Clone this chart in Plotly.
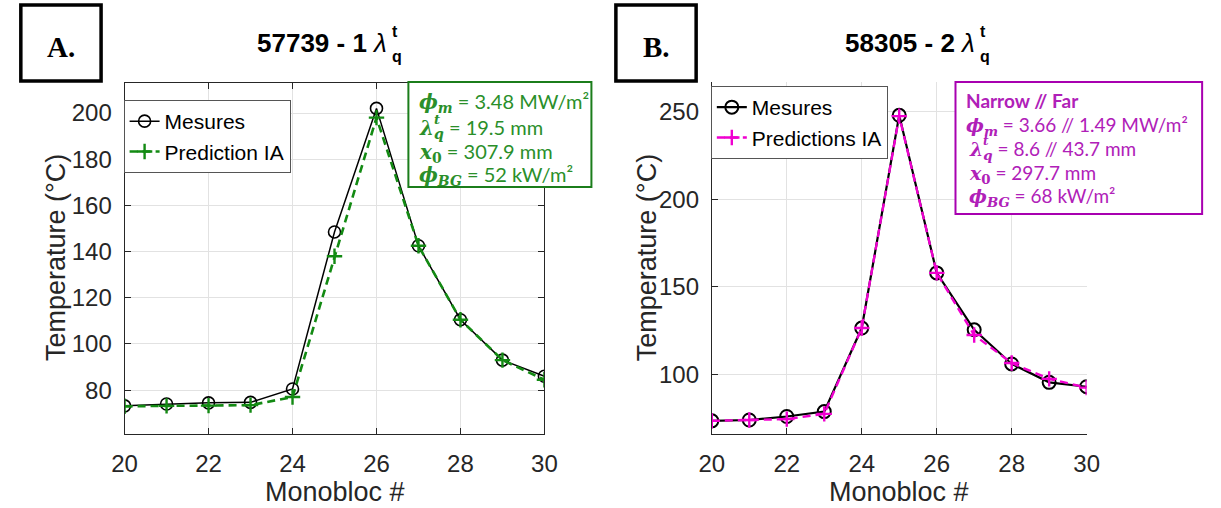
import plotly.graph_objects as go

W, H = 1221, 508


def px(x):
    return x / W


def py(y):
    return 1 - y / H


# ---------------- data ----------------
monobloc = [20, 21, 22, 23, 24, 25, 26, 27, 28, 29, 30]
mesures_A = [73.2, 74.0, 74.5, 74.7, 80.5, 148.5, 202.0, 142.5, 110.5, 93.0, 86.0]
prediction_A = [73.0, 73.2, 73.3, 73.5, 77.0, 138.0, 198.0, 142.5, 110.5, 93.0, 84.5]
mesures_B = [73.5, 74.0, 76.0, 78.8, 126.5, 248.0, 158.0, 125.5, 106.0, 95.5, 93.0]
prediction_B = [73.5, 74.0, 74.5, 77.5, 126.5, 247.5, 158.0, 122.5, 106.5, 97.5, 92.5]
x_ticks = [20, 22, 24, 26, 28, 30]
y_ticks_A = [80, 100, 120, 140, 160, 180, 200]
y_ticks_B = [100, 150, 200, 250]

SANS = "Liberation Sans, Arial, sans-serif"
GREEN = "#138a13"
GREEN_TXT = "#2a8f2a"
MAG = "#f000d0"
MAG_TXT = "#b020b8"
MAG_BOX = "#a800b0"
AX = "#262626"

fig = go.Figure()

# Panel A traces
fig.add_trace(go.Scatter(
    x=monobloc, y=mesures_A, mode="lines+markers", name="Mesures",
    line=dict(color="black", width=1.5),
    marker=dict(symbol="circle-open", size=12, color="black", line=dict(width=1.6)),
    xaxis="x", yaxis="y", legend="legend"))
fig.add_trace(go.Scatter(
    x=monobloc, y=prediction_A, mode="lines+markers", name="Prediction IA",
    line=dict(color=GREEN, width=2.6, dash="8px,5px"),
    marker=dict(symbol="cross-thin-open", size=11, color=GREEN, line=dict(width=2.4, color=GREEN)),
    xaxis="x", yaxis="y", legend="legend"))

# Panel B traces
fig.add_trace(go.Scatter(
    x=monobloc, y=mesures_B, mode="lines+markers", name="Mesures",
    line=dict(color="black", width=2.2),
    marker=dict(symbol="circle-open", size=13, color="black", line=dict(width=2)),
    xaxis="x2", yaxis="y2", legend="legend2"))
fig.add_trace(go.Scatter(
    x=monobloc, y=prediction_B, mode="lines+markers", name="Predictions IA",
    line=dict(color=MAG, width=2.4, dash="8px,5px"),
    marker=dict(symbol="cross-thin-open", size=11, color=MAG, line=dict(width=2.4, color=MAG)),
    xaxis="x2", yaxis="y2", legend="legend2"))

axis_common = dict(
    showline=True, linecolor=AX, linewidth=1, ticks="inside", ticklen=6,
    tickcolor=AX, tickfont=dict(family=SANS, size=24, color=AX),
    showgrid=True, gridcolor="#e2e2e2", gridwidth=1, zeroline=False,
)

fig.update_layout(
    width=W, height=H, margin=dict(l=0, r=0, t=0, b=0),
    paper_bgcolor="white", plot_bgcolor="white",
    xaxis=dict(domain=[px(114), px(543)], range=[20, 30], tickvals=x_ticks,
               anchor="y", mirror="ticks", ticklabelstandoff=8, **axis_common),
    yaxis=dict(domain=[py(434), py(83)], range=[61, 213], tickvals=y_ticks_A,
               anchor="x", mirror="ticks", ticklabelstandoff=7, **axis_common),
    xaxis2=dict(domain=[px(714), px(1097)], range=[20, 30], tickvals=x_ticks,
                anchor="y2", ticklabelstandoff=8, **axis_common),
    yaxis2=dict(domain=[py(434), py(82)], range=[66, 267], tickvals=y_ticks_B,
                anchor="x2", ticklabelstandoff=7, **axis_common),
    legend=dict(x=px(113), y=py(100), xanchor="left", yanchor="top",
                bgcolor="white", bordercolor="#555", borderwidth=1,
                font=dict(family=SANS, size=21, color="black"),
                tracegroupgap=0, itemwidth=30),
    legend2=dict(x=px(713), y=py(86), xanchor="left", yanchor="top",
                 bgcolor="white", bordercolor="#555", borderwidth=1,
                 font=dict(family=SANS, size=21, color="black"),
                 tracegroupgap=0, itemwidth=30),
    showlegend=True,
)

shapes = []
ann = []


def rect(x0, y0, x1, y1, color, width, fill="white"):
    shapes.append(dict(type="rect", xref="paper", yref="paper",
                       x0=px(x0), x1=px(x1), y0=py(y1), y1=py(y0),
                       line=dict(color=color, width=width), fillcolor=fill, layer="above"))


def text(x, y, s, size, color, family=SANS, xanchor="center", angle=0):
    ann.append(dict(xref="paper", yref="paper", x=px(x), y=py(y), text=s,
                    showarrow=False, xanchor=xanchor, yanchor="middle",
                    textangle=angle,
                    font=dict(family=family, size=size, color=color)))


# Panel letter boxes
rect(8, 5, 90, 81, "black", 3.5)
text(49, 47, "<b>A.</b>", 29, "black", family="Liberation Serif, Times New Roman, serif")
rect(616, 5, 698, 81, "black", 3.5)
text(657, 47, "<b>B.</b>", 29, "black", family="Liberation Serif, Times New Roman, serif")

# Titles
text(384, 43, "<b>57739 - 1 </b><i>λ</i>", 26, "black", xanchor="right")
text(385, 31, "<b>t</b>", 16, "black", xanchor="left")
text(385, 56, "<b>q</b>", 16, "black", xanchor="left")
text(985, 43, "<b>58305 - 2 </b><i>λ</i>", 26, "black", xanchor="right")
text(986, 31, "<b>t</b>", 16, "black", xanchor="left")
text(986, 56, "<b>q</b>", 16, "black", xanchor="left")

# Axis titles
text(44, 258, "Temperature (°C)", 27, AX, angle=-90)
text(329, 492, "Monobloc #", 27, AX)
text(648, 258, "Temperature (°C)", 27, AX, angle=-90)
text(905, 492, "Monobloc #", 27, AX)

SERIF = "font-family:DejaVu Serif"
BOXF = "Lato, Noto Sans, sans-serif"

# Green parameter box
rect(404, 82, 591, 187, "#1b7d1b", 2)
gx = 413
text(gx, 103, f"<span style='{SERIF}'><b><i>ϕ<sub>m</sub></i></b></span> = 3.48 MW/m²", 20, GREEN_TXT, family=BOXF, xanchor="left")
text(gx, 128, f"<span style='{SERIF}'><b><i>λ<sub>q</sub></i></b></span> = 19.5 mm", 20, GREEN_TXT, family=BOXF, xanchor="left")
text(gx + 15, 119, f"<span style='{SERIF}'><b><i>t</i></b></span>", 13, GREEN_TXT, family=BOXF, xanchor="left")
text(gx, 152, f"<span style='{SERIF}'><b><i>x</i><sub>0</sub></b></span> = 307.9 mm", 20, GREEN_TXT, family=BOXF, xanchor="left")
text(gx, 175, f"<span style='{SERIF}'><b><i>ϕ<sub>BG</sub></i></b></span> = 52 kW/m²", 20, GREEN_TXT, family=BOXF, xanchor="left")

# Magenta parameter box
rect(963, 82, 1215, 214, MAG_BOX, 2)
mx = 972
text(mx, 101, "<b>Narrow // Far</b>", 19, MAG_TXT, family=BOXF, xanchor="left")
text(mx, 126, f"<span style='{SERIF}'><b><i>ϕ<sub>m</sub></i></b></span> = 3.66 // 1.49 MW/m²", 19, MAG_TXT, family=BOXF, xanchor="left")
text(mx + 3, 150, f"<span style='{SERIF}'><b><i>λ<sub>q</sub></i></b></span> = 8.6 // 43.7 mm", 19, MAG_TXT, family=BOXF, xanchor="left")
text(mx + 17, 141, f"<span style='{SERIF}'><b><i>t</i></b></span>", 12, MAG_TXT, family=BOXF, xanchor="left")
text(mx + 3, 174, f"<span style='{SERIF}'><b><i>x</i><sub>0</sub></b></span> = 297.7 mm", 19, MAG_TXT, family=BOXF, xanchor="left")
text(mx + 3, 197, f"<span style='{SERIF}'><b><i>ϕ<sub>BG</sub></i></b></span> = 68 kW/m²", 19, MAG_TXT, family=BOXF, xanchor="left")

fig.update_layout(shapes=shapes, annotations=ann)

fig.write_html("out.html")
